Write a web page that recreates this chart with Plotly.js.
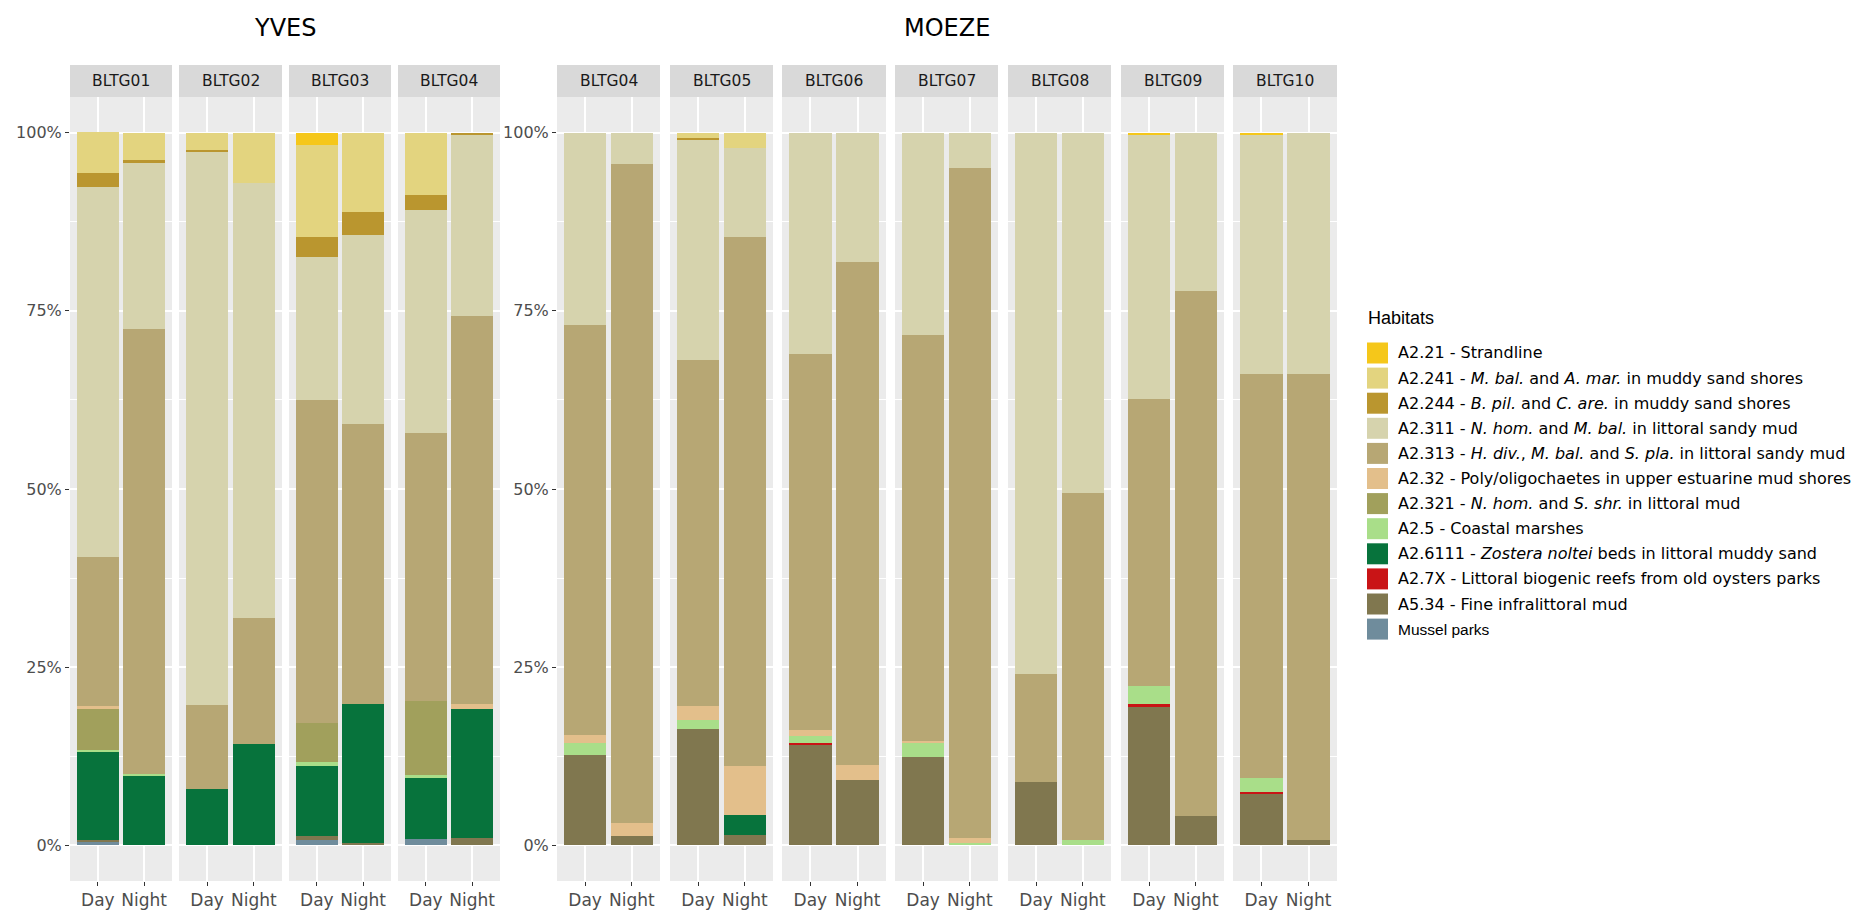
<!DOCTYPE html>
<html>
<head>
<meta charset="utf-8">
<script src="https://cdn.plot.ly/plotly-3.0.1.min.js"></script>
<style>html,body{margin:0;padding:0;background:#fff;}#chart{width:1859px;height:910px;}</style>
</head>
<body>
<div id="chart"></div>
<script>
// ---------- DATA ----------
const groups = ['YVES', 'MOEZE'];
const sites = ['BLTG01','BLTG02','BLTG03','BLTG04','BLTG04','BLTG05','BLTG06','BLTG07','BLTG08','BLTG09','BLTG10'];
const siteGroup = ['YVES','YVES','YVES','YVES','MOEZE','MOEZE','MOEZE','MOEZE','MOEZE','MOEZE','MOEZE'];
const periods = ['Day', 'Night'];

const habitatCodes = ['A2.21','A2.241','A2.244','A2.311','A2.313','A2.32','A2.321','A2.5','A2.6111','A2.7X','A5.34','Mussel parks'];
const habitatLabels = [
  'A2.21 - Strandline',
  'A2.241 - <i>M. bal.</i> and <i>A. mar.</i> in muddy sand shores',
  'A2.244 - <i>B. pil.</i> and <i>C. are.</i> in muddy sand shores',
  'A2.311 - <i>N. hom.</i> and <i>M. bal.</i> in littoral sandy mud',
  'A2.313 - <i>H. div.</i>, <i>M. bal.</i> and <i>S. pla.</i> in littoral sandy mud',
  'A2.32 - Poly/oligochaetes in upper estuarine mud shores',
  'A2.321 - <i>N. hom.</i> and <i>S. shr.</i> in littoral mud',
  'A2.5 - Coastal marshes',
  'A2.6111 - <i>Zostera noltei</i> beds in littoral muddy sand',
  'A2.7X - Littoral biogenic reefs from old oysters parks',
  'A5.34 - Fine infralittoral mud',
  'Mussel parks'
];
const habitatColors = ['#F5C71A','#E3D47F','#BA962F','#D6D3AD','#B7A774','#E3BF8B','#A1A05C','#A9DE89','#07733C','#C91416','#80774F','#6F8C9C'];

// Proportions per habitat; 22 values = 11 sites x [Day, Night]
const A2_21   = [0,0, 0,0, 0.018,0, 0,0, 0,0, 0,0, 0,0, 0,0, 0,0, 0.002,0, 0.002,0];
const A2_241  = [0.057,0.039, 0.024,0.071, 0.128,0.111, 0.088,0, 0,0, 0.008,0.021, 0,0, 0,0, 0,0, 0,0, 0,0];
const A2_244  = [0.020,0.003, 0.003,0, 0.029,0.033, 0.021,0.003, 0,0, 0.003,0, 0,0, 0,0, 0,0, 0,0, 0,0];
const A2_311  = [0.519,0.233, 0.776,0.610, 0.200,0.265, 0.312,0.254, 0.270,0.044, 0.308,0.126, 0.310,0.181, 0.284,0.049, 0.760,0.505, 0.372,0.222, 0.336,0.339];
const A2_313  = [0.210,0.625, 0.118,0.177, 0.453,0.392, 0.376,0.544, 0.575,0.924, 0.485,0.742, 0.528,0.706, 0.570,0.940, 0.151,0.488, 0.403,0.737, 0.567,0.653];
const A2_32   = [0.003,0, 0,0, 0,0, 0,0.007, 0.012,0.019, 0.020,0.068, 0.008,0.021, 0.002,0.008, 0,0, 0,0, 0,0];
const A2_321  = [0.058,0, 0,0, 0.055,0, 0.104,0, 0,0, 0,0, 0,0, 0,0, 0,0, 0,0, 0,0];
const A2_5    = [0.002,0.003, 0,0, 0.005,0, 0.004,0, 0.016,0, 0.013,0, 0.010,0, 0.020,0.003, 0,0.007, 0.024,0, 0.020,0];
const A2_6111 = [0.125,0.097, 0.079,0.142, 0.099,0.195, 0.086,0.181, 0,0, 0,0.029, 0,0, 0,0, 0,0, 0,0, 0,0];
const A2_7X   = [0,0, 0,0, 0,0, 0,0, 0,0, 0,0, 0.002,0, 0,0, 0,0, 0.005,0, 0.002,0];
const A5_34   = [0.002,0, 0,0, 0.006,0.004, 0,0.011, 0.127,0.013, 0.163,0.014, 0.142,0.092, 0.124,0, 0.089,0, 0.194,0.041, 0.073,0.008];
const MUSSEL  = [0.005,0, 0,0, 0.007,0, 0.009,0, 0,0, 0,0, 0,0, 0,0, 0,0, 0,0, 0,0];
const habitatValues = [A2_21, A2_241, A2_244, A2_311, A2_313, A2_32, A2_321, A2_5, A2_6111, A2_7X, A5_34, MUSSEL];

// ---------- LAYOUT GEOMETRY (pixels) ----------
const W = 1859, H = 910;
const panelLeft  = [70, 179, 289, 398, 557, 670, 782, 895, 1008, 1121, 1233];
const panelRight = [172, 282, 391, 500, 660, 773, 886, 998, 1111, 1224, 1337];
const panelTop = 97, panelBottom = 881, stripTop = 65;
const fx = x => x / W;
const fy = y => 1 - y / H;
const FONT = 'DejaVu Sans, Verdana, sans-serif';

const traces = [];
const layout = {
  width: W, height: H,
  margin: {l: 0, r: 0, t: 0, b: 0},
  paper_bgcolor: '#FFFFFF',
  plot_bgcolor: '#EBEBEB',
  barmode: 'stack',
  bargap: 0.1,
  showlegend: false,
  shapes: [],
  annotations: []
};

sites.forEach((site, p) => {
  const n = p + 1;
  const xa = 'x' + (n === 1 ? '' : n);
  const ya = 'y' + (n === 1 ? '' : n);
  // stack bottom-up: last habitat first
  for (let h = habitatCodes.length - 1; h >= 0; h--) {
    traces.push({
      type: 'bar',
      x: periods,
      y: [habitatValues[h][2 * p], habitatValues[h][2 * p + 1]],
      name: habitatCodes[h],
      xaxis: xa, yaxis: ya,
      marker: {color: habitatColors[h], line: {width: 0}},
      hovertemplate: siteGroup[p] + ' ' + site + '<br>%{x}<br>' + habitatCodes[h] + ': %{y:.1%}<extra></extra>'
    });
  }
  const firstOfGroup = (p === 0 || siteGroup[p] !== siteGroup[p - 1]);
  layout['xaxis' + (n === 1 ? '' : n)] = {
    domain: [fx(panelLeft[p]), fx(panelRight[p])],
    anchor: ya,
    type: 'category',
    categoryarray: periods,
    range: [-0.6, 1.6],
    showgrid: true, gridcolor: '#FFFFFF', gridwidth: 2,
    zeroline: false, showline: false,
    ticks: 'outside', ticklen: 4, tickwidth: 1.2, tickcolor: '#333333',
    tickfont: {family: FONT, size: 17, color: '#4D4D4D'},
    fixedrange: true
  };
  layout['yaxis' + (n === 1 ? '' : n)] = {
    domain: [fy(panelBottom), fy(panelTop)],
    anchor: xa,
    range: [-0.05, 1.05],
    tick0: 0, dtick: 0.25,
    tickformat: '.0%',
    showgrid: true, gridcolor: '#FFFFFF', gridwidth: 2,
    minor: {tick0: 0, dtick: 0.125, showgrid: true, gridcolor: '#FFFFFF', gridwidth: 1.1, ticks: ''},
    zeroline: false, showline: false,
    showticklabels: firstOfGroup,
    ticks: firstOfGroup ? 'outside' : '',
    ticklen: 4, tickwidth: 1.2, tickcolor: '#333333',
    tickfont: {family: FONT, size: 16, color: '#4D4D4D'},
    fixedrange: true
  };
  // facet strip
  layout.shapes.push({
    type: 'rect', xref: 'paper', yref: 'paper',
    x0: fx(panelLeft[p]), x1: fx(panelRight[p]),
    y0: fy(panelTop), y1: fy(stripTop),
    fillcolor: '#D9D9D9', line: {width: 0}, layer: 'below'
  });
  layout.annotations.push({
    xref: 'paper', yref: 'paper',
    x: fx((panelLeft[p] + panelRight[p]) / 2), y: fy((panelTop + stripTop) / 2),
    xanchor: 'center', yanchor: 'middle',
    text: site, showarrow: false,
    font: {family: FONT, size: 15.5, color: '#1A1A1A'}
  });
});

// group titles
groups.forEach(g => {
  const idx = siteGroup.map((s, i) => s === g ? i : -1).filter(i => i >= 0);
  const left = panelLeft[idx[0]], right = panelRight[idx[idx.length - 1]];
  layout.annotations.push({
    xref: 'paper', yref: 'paper',
    x: fx((left + right) / 2), y: fy(28),
    xanchor: 'center', yanchor: 'middle',
    text: g, showarrow: false,
    font: {family: FONT, size: 24, color: '#000000'}
  });
});

// legend (ggplot-style, drawn from the habitat arrays)
const legX = 1367, legY0 = 353, legStep = 25.1, sw = 21;
layout.annotations.push({
  xref: 'paper', yref: 'paper', x: fx(legX - 1), y: fy(318),
  xanchor: 'left', yanchor: 'middle', text: 'Habitats', showarrow: false,
  font: {family: 'Liberation Sans, Arial, sans-serif', size: 18, color: '#000000'}
});
habitatLabels.forEach((lab, i) => {
  const cy = legY0 + legStep * i;
  layout.shapes.push({
    type: 'rect', xref: 'paper', yref: 'paper',
    x0: fx(legX), x1: fx(legX + sw), y0: fy(cy + sw / 2), y1: fy(cy - sw / 2),
    fillcolor: habitatColors[i], line: {width: 0}
  });
  layout.annotations.push({
    xref: 'paper', yref: 'paper', x: fx(legX + 29), y: fy(cy),
    xanchor: 'left', yanchor: 'middle', text: lab, showarrow: false,
    font: {family: i === habitatLabels.length - 1 ? 'Liberation Sans, Arial, sans-serif' : FONT,
           size: i === habitatLabels.length - 1 ? 15.5 : 16, color: '#000000'}
  });
});

Plotly.newPlot('chart', traces, layout, {displayModeBar: false, responsive: false});
</script>
</body>
</html>
